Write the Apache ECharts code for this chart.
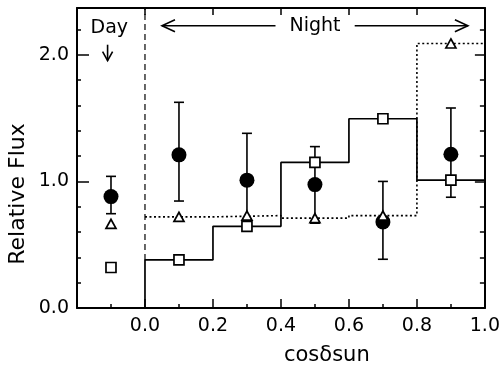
<!DOCTYPE html>
<html>
<head>
<meta charset="utf-8">
<script src="https://cdn.jsdelivr.net/npm/echarts@6/dist/echarts.min.js"></script>
<style>
  html, body { margin: 0; padding: 0; background: #fff; }
  #chart { width: 503px; height: 367px; }
</style>
</head>
<body>
<div id="chart"></div>
<script>
// bin edges of cos(delta_sun) for night
var binEdges = [0.0, 0.2, 0.4, 0.6, 0.8, 1.0];
var nightX = [0.1, 0.3, 0.5, 0.7, 0.9];
var dayX = [-0.1];

// filled circles with error bars
var circleNight = [1.21, 1.01, 0.975, 0.68, 1.215];
var circleNightHi = [1.625, 1.38, 1.275, 1.0, 1.58];
var circleNightLo = [0.845, 0.70, 0.67, 0.385, 0.875];
var circleDay = [0.88];
var circleDayHi = [1.04];
var circleDayLo = [0.745];

// open squares (solid histogram) and triangles (dotted histogram)
var squareNight = [0.38, 0.645, 1.15, 1.495, 1.01];
var squareDay = [0.32];
var triangleNight = [0.72, 0.73, 0.71, 0.73, 2.09];
var triangleDay = [0.665];

var xMin = -0.2, xMax = 1.0;
var yMin = 0, yMax = 2.37;
var FONT = 'DejaVu Sans';

// build step outline for a histogram
function stepLine(vals, fromZero) {
	var pts = [];
	if (fromZero) pts.push([binEdges[0], 0]);
	for (var i = 0; i < vals.length; i++) {
		pts.push([binEdges[i], vals[i]]);
		pts.push([binEdges[i + 1], vals[i]]);
	}
	return pts;
}

function pairs(xs, ys) {
	return xs.map(function (x, i) { return [x, ys[i]]; });
}

var errData = [];
dayX.forEach(function (x, i) { errData.push([x, circleDayLo[i], circleDayHi[i]]); });
nightX.forEach(function (x, i) { errData.push([x, circleNightLo[i], circleNightHi[i]]); });

var chart = echarts.init(document.getElementById('chart'));

var axisLine = { show: true, onZero: false, lineStyle: { color: '#000', width: 2 } };
var noLine = { show: false, onZero: false };

var option = {
	animation: false,
	backgroundColor: '#fff',
	grid: { left: 77, right: 16, top: 8, bottom: 59 },
	xAxis: [
		{
			type: 'value', position: 'bottom', min: xMin, max: xMax, interval: 0.2,
			axisLine: axisLine,
			axisTick: { inside: true, length: 9, lineStyle: { color: '#000', width: 1.5 } },
			minorTick: { show: true, splitNumber: 2, length: 4, lineStyle: { color: '#000', width: 1.5 } },
			splitLine: { show: false },
			axisLabel: {
				color: '#000', fontFamily: FONT, fontSize: 19, margin: 9,
				formatter: function (v) { return v < -0.01 ? '' : v.toFixed(1); }
			}
		},
		{
			type: 'value', position: 'top', min: xMin, max: xMax, interval: 0.2,
			axisLine: axisLine,
			axisTick: { inside: true, length: 7, lineStyle: { color: '#000', width: 1.5 } },
			splitLine: { show: false },
			axisLabel: { show: false }
		}
	],
	yAxis: [
		{
			type: 'value', position: 'left', min: yMin, max: yMax, interval: 0.2,
			axisLine: axisLine,
			axisTick: { inside: true, length: 4, lineStyle: { color: '#000', width: 1.5 } },
			splitLine: { show: false },
			axisLabel: { show: false }
		},
		{
			type: 'value', position: 'left', min: yMin, max: yMax, interval: 1,
			axisLine: noLine,
			axisTick: { inside: true, length: 12, lineStyle: { color: '#000', width: 1.5 } },
			splitLine: { show: false },
			axisLabel: {
				color: '#000', fontFamily: FONT, fontSize: 19, margin: 8,
				formatter: function (v) { return Math.abs(v - Math.round(v)) < 0.001 ? v.toFixed(1) : ''; }
			}
		},
		{
			type: 'value', position: 'right', min: yMin, max: yMax, interval: 0.2,
			axisLine: axisLine,
			axisTick: { inside: true, length: 5, lineStyle: { color: '#000', width: 1.5 } },
			splitLine: { show: false },
			axisLabel: { show: false }
		},
		{
			type: 'value', position: 'right', min: yMin, max: yMax, interval: 1,
			axisLine: noLine,
			axisTick: { inside: true, length: 10, lineStyle: { color: '#000', width: 1.5 } },
			splitLine: { show: false },
			axisLabel: { show: false }
		}
	],
	series: [
		{
			// error bars of the filled circles
			type: 'custom',
			z: 2,
			data: errData,
			renderItem: function (params, api) {
				var x = api.value(0);
				var lo = api.coord([x, api.value(1)]);
				var hi = api.coord([x, api.value(2)]);
				var w = 5;
				var st = { stroke: '#000', lineWidth: 1.6 };
				return {
					type: 'group',
					children: [
						{ type: 'line', shape: { x1: lo[0], y1: lo[1], x2: hi[0], y2: hi[1] }, style: st },
						{ type: 'line', shape: { x1: lo[0] - w, y1: lo[1], x2: lo[0] + w, y2: lo[1] }, style: st },
						{ type: 'line', shape: { x1: hi[0] - w, y1: hi[1], x2: hi[0] + w, y2: hi[1] }, style: st }
					]
				};
			}
		},
		{
			// day / night boundary
			type: 'line', z: 2, symbol: 'none',
			data: [[0, squareNight[0]], [0, yMax]],
			lineStyle: { color: '#000', width: 1.2, type: [6, 4] }
		},
		{
			type: 'line', z: 3, symbol: 'none',
			data: stepLine(triangleNight, false),
			lineStyle: { color: '#000', width: 1.6, type: [2, 2.5] }
		},
		{
			type: 'line', z: 3, symbol: 'none',
			data: stepLine(squareNight, true),
			lineStyle: { color: '#000', width: 1.7 }
		},
		{
			type: 'scatter', z: 4, symbol: 'circle', symbolSize: 15,
			data: pairs(dayX, circleDay).concat(pairs(nightX, circleNight)),
			itemStyle: { color: '#000', opacity: 1 }
		},
		{
			type: 'scatter', z: 5, symbol: 'rect', symbolSize: 10,
			data: pairs(dayX, squareDay).concat(pairs(nightX, squareNight)),
			itemStyle: { color: '#fff', borderColor: '#000', borderWidth: 1.7, opacity: 1 }
		},
		{
			type: 'scatter', z: 5, symbol: 'triangle', symbolSize: [10, 9],
			data: pairs(dayX, triangleDay).concat(pairs(nightX, triangleNight)),
			itemStyle: { color: '#fff', borderColor: '#000', borderWidth: 1.7, opacity: 1 }
		}
	]
};

chart.setOption(option);

// annotations placed in data coordinates
function px(x, y) { return chart.convertToPixel({ xAxisIndex: 0, yAxisIndex: 0 }, [x, y]); }

var st = { stroke: '#000', lineWidth: 1.6, fill: null };
var nL = px(0.05, 2.23), nR = px(0.95, 2.23);
var gapL = px(0.384, 2.23), gapR = px(0.617, 2.23);
var nText = px(0.5, 2.23);
var dText = px(-0.105, 2.21);
var dTop = px(-0.11, 2.08), dBot = px(-0.11, 1.955);
var xName = px(0.535, 0);

chart.setOption({
	graphic: [
		{ type: 'line', shape: { x1: nL[0], y1: nL[1], x2: gapL[0], y2: gapL[1] }, style: st },
		{ type: 'line', shape: { x1: gapR[0], y1: gapR[1], x2: nR[0], y2: nR[1] }, style: st },
		{ type: 'polyline', shape: { points: [[nL[0] + 13, nL[1] - 6], [nL[0], nL[1]], [nL[0] + 13, nL[1] + 6]] }, style: st },
		{ type: 'polyline', shape: { points: [[nR[0] - 13, nR[1] - 6], [nR[0], nR[1]], [nR[0] - 13, nR[1] + 6]] }, style: st },
		{
			type: 'text', x: nText[0], y: nText[1],
			style: { text: 'Night', fontFamily: FONT, fontSize: 19, fill: '#000', align: 'center', verticalAlign: 'middle' }
		},
		{
			type: 'text', x: dText[0], y: dText[1],
			style: { text: 'Day', fontFamily: FONT, fontSize: 19, fill: '#000', align: 'center', verticalAlign: 'middle' }
		},
		{ type: 'line', shape: { x1: dTop[0], y1: dTop[1], x2: dBot[0], y2: dBot[1] }, style: st },
		{ type: 'polyline', shape: { points: [[dBot[0] - 5, dBot[1] - 9], [dBot[0], dBot[1]], [dBot[0] + 5, dBot[1] - 9]] }, style: st },
		{
			type: 'text', x: xName[0], y: 356,
			style: { text: 'cos\u03b4sun', fontFamily: FONT, fontSize: 21, fill: '#000', align: 'center', verticalAlign: 'middle' }
		},
		{
			type: 'text', x: 18, y: 194, rotation: Math.PI / 2,
			style: { text: 'Relative Flux', fontFamily: FONT, fontSize: 22, fill: '#000', align: 'center', verticalAlign: 'middle' }
		}
	]
});
</script>
</body>
</html>
